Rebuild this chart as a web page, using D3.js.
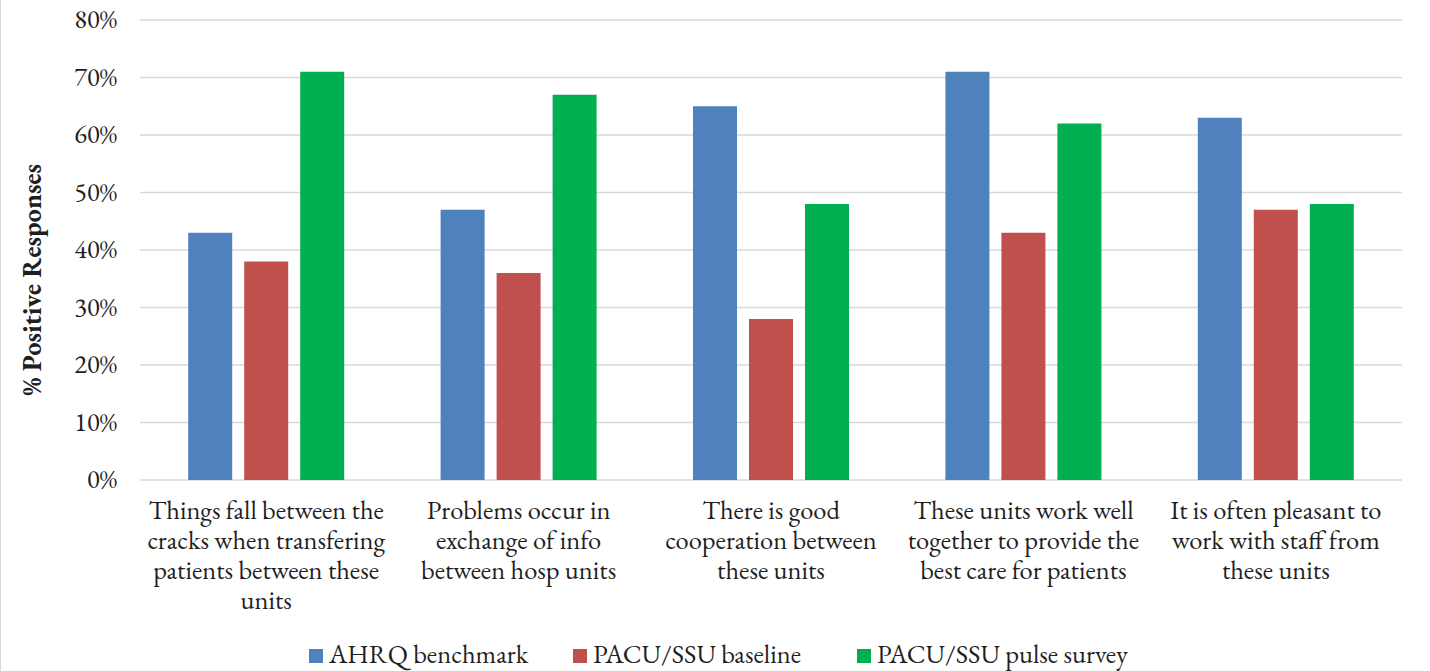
<!DOCTYPE html>
<html>
<head>
<meta charset="utf-8">
<script src="https://cdn.jsdelivr.net/npm/d3@7"></script>
<style>
  body { margin: 0; background: #fff; }
</style>
</head>
<body>
<svg id="chart" width="1430" height="671"></svg>
<script>
    'use strict';

    // categories (x axis), split into lines the way the picture wraps them
    var categories = [
        ['Things fall between the', 'cracks when transfering', 'patients between these', 'units'],
        ['Problems occur in', 'exchange of info', 'between hosp units'],
        ['There is good', 'cooperation between', 'these units'],
        ['These units work well', 'together to provide the', 'best care for patients'],
        ['It is often pleasant to', 'work with staff from', 'these units']
    ];
    var seriesNames = ['AHRQ benchmark', 'PACU/SSU baseline', 'PACU/SSU pulse survey'];
    var seriesColors = ['#4F81BD', '#C0504D', '#00B050'];

    // % positive responses
    var ahrq     = [0.43, 0.47, 0.65, 0.71, 0.63];
    var baseline = [0.38, 0.36, 0.28, 0.43, 0.47];
    var pulse    = [0.71, 0.67, 0.48, 0.62, 0.48];

    var yTicks = [0, 0.1, 0.2, 0.3, 0.4, 0.5, 0.6, 0.7, 0.8];

    var seriesValues = [ahrq, baseline, pulse];

    var FONT = '"EB Garamond", "Liberation Serif", serif';
    var TEXT_COLOR = '#1f1f1f';

    var svg = d3.select('#chart');

    // faint border on the left edge
    svg.append('line')
        .attr('x1', 0.5).attr('x2', 0.5)
        .attr('y1', 0).attr('y2', 671)
        .style('stroke', '#d9d9d9');

    var plotLeft = 140, plotRight = 1402, plotTop = 20, plotBottom = 480;

    var y = d3.scaleLinear().domain([0, 0.8]).range([plotBottom, plotTop]);
    var x0 = d3.scaleBand().domain(d3.range(categories.length)).range([plotLeft, plotRight]).padding(0);
    var groupWidth = 156;
    var x1 = d3.scaleBand().domain(d3.range(seriesNames.length))
        .range([0, groupWidth]).paddingInner(12 / 56).paddingOuter(0);
    var groupOffset = (x0.bandwidth() - groupWidth) / 2;

    // gridlines
    svg.append('g').selectAll('line')
        .data(yTicks)
        .enter()
        .append('line')
        .attr('x1', plotLeft).attr('x2', plotRight)
        .attr('y1', function(d) { return y(d); })
        .attr('y2', function(d) { return y(d); })
        .style('stroke', '#d9d9d9')
        .style('stroke-width', '1.5px');

    // y tick labels
    var yAxis = d3.axisLeft(y).tickValues(yTicks).tickFormat(d3.format('.0%')).tickSize(0).tickPadding(0);
    var yg = svg.append('g').attr('transform', 'translate(117,0)').call(yAxis);
    yg.select('.domain').remove();
    yg.selectAll('text')
        .style('font-size', '26.5px')
        .style('font-family', FONT)
        .style('fill', TEXT_COLOR)
        .attr('dy', '0.3em');

    // bars
    var groups = svg.append('g').selectAll('g')
        .data(categories.map(function(c, i) { return i; }))
        .enter()
        .append('g')
        .attr('transform', function(i) { return 'translate(' + (x0(i) + groupOffset) + ',0)'; });

    groups.selectAll('rect')
        .data(function(i) {
            return seriesValues.map(function(vals, s) { return { s: s, v: vals[i] }; });
        })
        .enter()
        .append('rect')
        .attr('x', function(d) { return x1(d.s); })
        .attr('width', x1.bandwidth())
        .attr('y', function(d) { return y(d.v); })
        .attr('height', function(d) { return plotBottom - y(d.v); })
        .style('fill', function(d) { return seriesColors[d.s]; });

    // category labels
    var catLabels = svg.append('g').selectAll('text')
        .data(categories)
        .enter()
        .append('text')
        .attr('text-anchor', 'middle')
        .style('font-family', FONT)
        .style('font-size', '26.5px')
        .style('fill', TEXT_COLOR)
        .attr('transform', function(d, i) {
            return 'translate(' + (x0(i) + x0.bandwidth() / 2) + ',519)';
        });
    catLabels.selectAll('tspan')
        .data(function(d) { return d; })
        .enter()
        .append('tspan')
        .attr('x', 0)
        .attr('y', function(d, i) { return i * 30; })
        .text(function(d) { return d; });

    // y axis title
    svg.append('text')
        .attr('transform', 'translate(41,' + ((plotTop + plotBottom) / 2 + 30) + ') rotate(-90)')
        .attr('text-anchor', 'middle')
        .style('font-family', FONT)
        .style('font-size', '26.5px')
        .style('font-weight', 'bold')
        .style('fill', TEXT_COLOR)
        .text('% Positive Responses');

    // legend
    var legendX = [309, 573, 857];
    var legend = svg.append('g').selectAll('g')
        .data(seriesNames)
        .enter()
        .append('g')
        .attr('transform', function(d, i) { return 'translate(' + legendX[i] + ',649)'; });
    legend.append('rect')
        .attr('width', 14).attr('height', 14)
        .style('fill', function(d, i) { return seriesColors[i]; });
    legend.append('text')
        .attr('x', 20)
        .attr('y', 14)
        .style('font-family', FONT)
        .style('font-size', '26.5px')
        .style('fill', TEXT_COLOR)
        .text(function(d) { return d; });
</script>
</body>
</html>
